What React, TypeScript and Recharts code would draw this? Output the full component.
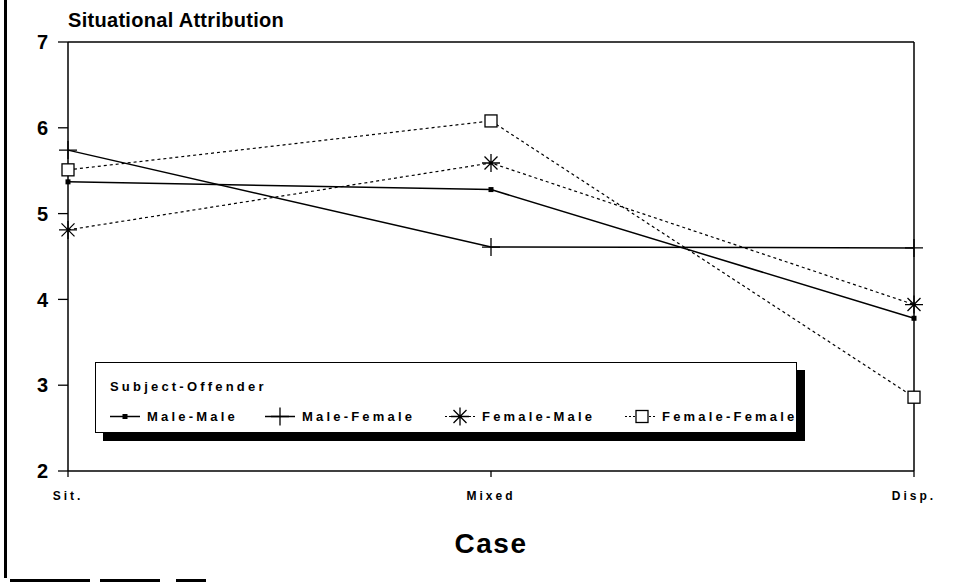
import { Legend, Line, LineChart, ReferenceLine, XAxis, YAxis } from "recharts";

const cases = ["Sit.", "Mixed", "Disp."];
const maleMale = [5.37, 5.28, 3.78];
const maleFemale = [5.74, 4.61, 4.6];
const femaleMale = [4.81, 5.59, 3.94];
const femaleFemale = [5.51, 6.08, 2.86];
const yTicks = [2, 3, 4, 5, 6, 7];
const seriesNames = ["Male-Male", "Male-Female", "Female-Male", "Female-Female"];

const data = cases.map((c, i) => ({
  case: c,
  mm: maleMale[i],
  mf: maleFemale[i],
  fm: femaleMale[i],
  ff: femaleFemale[i],
}));

const FONT = "'Liberation Sans', Arial, Helvetica, sans-serif";

function SmallSquare({ cx, cy }: { cx: number; cy: number }) {
  return <rect x={cx - 2.5} y={cy - 2.5} width={5} height={5} fill="#000" />;
}

function Plus({ cx, cy }: { cx: number; cy: number }) {
  return (
    <path
      d={`M${cx},${cy - 9}V${cy + 9}M${cx - 9},${cy}H${cx + 9}`}
      stroke="#000"
      strokeWidth={1.3}
      fill="none"
    />
  );
}

function Star({ cx, cy }: { cx: number; cy: number }) {
  const r = 9;
  const d = 6.5;
  return (
    <path
      d={`M${cx - r},${cy}H${cx + r}M${cx},${cy - r}V${cy + r}M${cx - d},${cy - d}L${cx + d},${cy + d}M${cx - d},${cy + d}L${cx + d},${cy - d}`}
      stroke="#000"
      strokeWidth={1.3}
      fill="none"
    />
  );
}

function OpenSquare({ cx, cy }: { cx: number; cy: number }) {
  return (
    <rect x={cx - 6} y={cy - 6} width={12} height={12} fill="#fff" stroke="#000" strokeWidth={1.3} />
  );
}

const dotOf = (Shape: any) => (p: any) => <Shape key={`dot-${p.index}`} cx={p.cx} cy={p.cy} />;

const symbolFor: Record<string, any> = {
  mm: SmallSquare,
  mf: Plus,
  fm: Star,
  ff: OpenSquare,
};

const itemWidths = [155, 180, 180, 175];

function LegendBox({ payload }: any) {
  const items = [...(payload || [])].sort(
    (a: any, b: any) => seriesNames.indexOf(a.value) - seriesNames.indexOf(b.value)
  );
  return (
    <div
      style={{
        width: 702,
        height: 71,
        boxSizing: "border-box",
        border: "1px solid #000",
        background: "#fff",
        boxShadow: "8px 8px 0 #000",
        fontFamily: FONT,
        fontWeight: 700,
        fontSize: 13,
        letterSpacing: 3.2,
        color: "#000",
        padding: "16px 0 0 14px",
        whiteSpace: "nowrap",
      }}
    >
      <div style={{ lineHeight: "15px" }}>Subject-Offender</div>
      <div style={{ display: "flex", marginTop: 15, lineHeight: "15px" }}>
        {items.map((entry: any, i: number) => {
          const Shape = symbolFor[entry.dataKey];
          const dashed = entry.dataKey === "fm" || entry.dataKey === "ff";
          return (
            <div
              key={entry.value}
              style={{ display: "flex", alignItems: "center", width: itemWidths[i], flexShrink: 0 }}
            >
              <svg width={30} height={15} style={{ overflow: "visible" }}>
                <line
                  x1={0}
                  y1={7.5}
                  x2={30}
                  y2={7.5}
                  stroke="#000"
                  strokeWidth={dashed ? 1 : 1.5}
                  strokeDasharray={dashed ? "2 2" : undefined}
                />
                <Shape cx={entry.dataKey === "ff" ? 17 : 15} cy={7.5} />
              </svg>
              <span style={{ marginLeft: 7 }}>{entry.value}</span>
            </div>
          );
        })}
      </div>
    </div>
  );
}

export default function App() {
  return (
    <div style={{ position: "absolute", left: 0, top: 0, width: 957, height: 584, background: "#fff" }}>
      <div style={{ position: "absolute", left: 4, top: 0, width: 3, height: 578, background: "#000" }} />
      <div style={{ position: "absolute", left: 10, top: 579, width: 80, height: 3, background: "#000" }} />
      <div style={{ position: "absolute", left: 100, top: 579, width: 60, height: 3, background: "#000" }} />
      <div style={{ position: "absolute", left: 176, top: 579, width: 30, height: 3, background: "#000" }} />
      <div
        style={{
          position: "absolute",
          left: 68,
          top: 10,
          fontFamily: FONT,
          fontWeight: 700,
          fontSize: 20,
          lineHeight: "20px",
          letterSpacing: 0.3,
          color: "#000",
          zIndex: 2,
        }}
      >
        Situational Attribution
      </div>
      <LineChart
        width={957}
        height={584}
        data={data}
        margin={{ top: 42, right: 43, bottom: 0, left: 0 }}
        style={{ fontFamily: FONT }}
      >
        <XAxis
          dataKey="case"
          height={113}
          stroke="#000"
          axisLine={{ stroke: "#000", strokeWidth: 1.5 }}
          tickLine={{ stroke: "#000", strokeWidth: 1.3 }}
          tickSize={6}
          tickMargin={14}
          tick={{ fill: "#000", fontSize: 12, fontWeight: 700, letterSpacing: 3 }}
          label={{
            value: "Case",
            position: "insideBottom",
            offset: 31,
            fill: "#000",
            fontSize: 28,
            fontWeight: 700,
            letterSpacing: 1.5,
          }}
        />
        <YAxis
          width={68}
          domain={[2, 7]}
          ticks={yTicks}
          stroke="#000"
          axisLine={{ stroke: "#000", strokeWidth: 1.5 }}
          tickLine={{ stroke: "#000", strokeWidth: 1.3 }}
          tickSize={10}
          tickMargin={10}
          tick={{ fill: "#000", fontSize: 20, fontWeight: 700 }}
        />
        <ReferenceLine y={7} stroke="#000" strokeWidth={1.5} />
        <ReferenceLine x="Disp." stroke="#000" strokeWidth={1.5} />
        <Legend
          layout="horizontal"
          verticalAlign="middle"
          align="center"
          wrapperStyle={{ left: 95, top: 362, width: 702, height: 71 }}
          content={LegendBox}
        />
        <Line
          name={seriesNames[0]}
          dataKey="mm"
          stroke="#000"
          strokeWidth={1.5}
          dot={dotOf(SmallSquare)}
          activeDot={false}
          isAnimationActive={false}
        />
        <Line
          name={seriesNames[1]}
          dataKey="mf"
          stroke="#000"
          strokeWidth={1.5}
          dot={dotOf(Plus)}
          activeDot={false}
          isAnimationActive={false}
        />
        <Line
          name={seriesNames[2]}
          dataKey="fm"
          stroke="#000"
          strokeWidth={1.2}
          strokeDasharray="3 3"
          dot={dotOf(Star)}
          activeDot={false}
          isAnimationActive={false}
        />
        <Line
          name={seriesNames[3]}
          dataKey="ff"
          stroke="#000"
          strokeWidth={1.2}
          strokeDasharray="3 3"
          dot={dotOf(OpenSquare)}
          activeDot={false}
          isAnimationActive={false}
        />
      </LineChart>
    </div>
  );
}
